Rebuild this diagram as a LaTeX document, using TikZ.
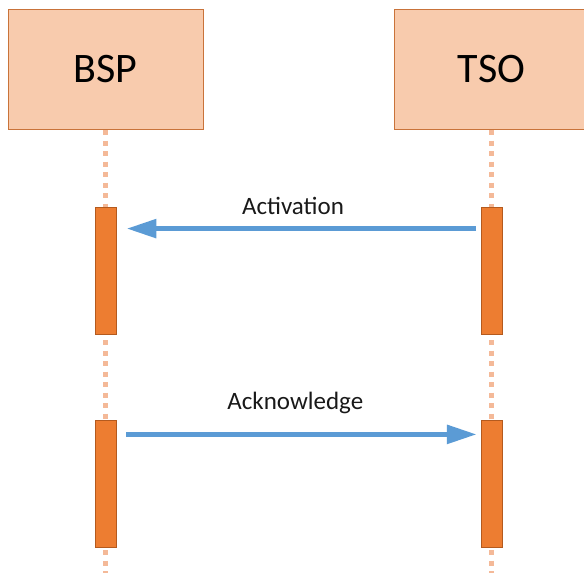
\documentclass[tikz,border=0pt]{standalone}
\usepackage{fontspec}
\setmainfont{Carlito}
\usetikzlibrary{arrows.meta}
\definecolor{headfill}{HTML}{F8CBAD}
\definecolor{headline}{HTML}{C9733A}
\definecolor{barfill}{HTML}{ED7D31}
\definecolor{barline}{HTML}{B45A1E}
\definecolor{lifecol}{HTML}{F4B998}
\definecolor{msgcol}{HTML}{5B9BD5}
\tikzset{
    head/.style={draw=headline,fill=headfill,line width=1pt,minimum width=195pt,minimum height=120pt,font=\fontsize{42}{50}\selectfont},
    bar/.style={draw=barline,fill=barfill,line width=0.8pt,minimum width=21pt,minimum height=127pt,inner sep=0pt},
    lifeline/.style={lifecol,line width=5pt,dash pattern=on 5pt off 5.5pt},
    msg/.style={msgcol,line width=5.5pt,-{Triangle[length=30pt,width=18pt]}},
    lbl/.style={anchor=base,font=\fontsize{25}{30}\selectfont,text=black!90}
}
\begin{document}
\begin{tikzpicture}[x=1pt,y=-1pt]
        \useasboundingbox (0,0) rectangle (584,573);
        \node[head] (bsp) at (105.5,69.5) {BSP};
        \node[head] (tso) at (491.5,69.5) {TSO};
        \coordinate (bspend) at (105.5,573);
        \coordinate (tsoend) at (491.5,573);
        \draw[lifeline] (bsp.south) -- (bspend);
        \draw[lifeline] (tso.south) -- (tsoend);
        \node[bar] (bspA) at (105.5,270.5) {};
        \node[bar] (tsoA) at (491.5,270.5) {};
        \node[bar] (bspB) at (105.5,484) {};
        \node[bar] (tsoB) at (491.5,484) {};
        \draw[msg,shorten <=4.5pt,shorten >=10pt] ([yshift=-22pt]tsoA.north west) -- ([yshift=-22pt]bspA.north east);
        \draw[msg,shorten <=10pt,shorten >=3.7pt] ([yshift=-14.3pt]bspB.north east) -- ([yshift=-14.3pt]tsoB.north west);
        \node[lbl] (actlbl) at (293,214.3) {Activation};
        \node[lbl] (acklbl) at (295.3,409.3) {Acknowledge};
    \end{tikzpicture}
\end{document}
